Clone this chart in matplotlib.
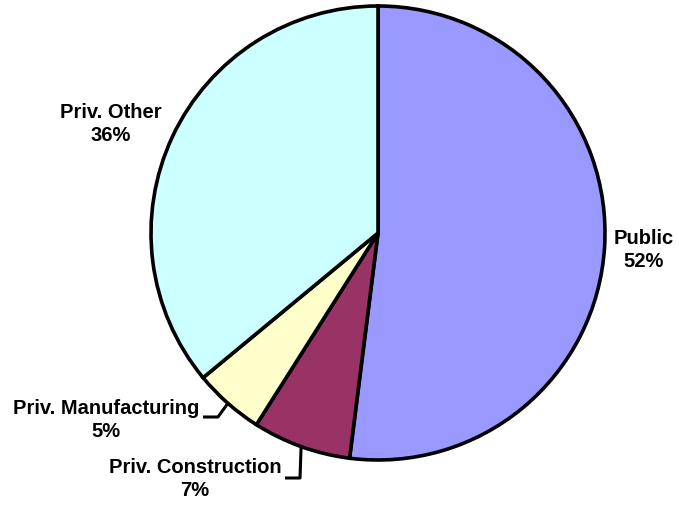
import numpy as np
import matplotlib
matplotlib.use("Agg")
import matplotlib.pyplot as plt

# data
labels = ["Public", "Priv. Construction", "Priv. Manufacturing", "Priv. Other"]
shares = [52, 7, 5, 36]
colors = ["#9999FF", "#993366", "#FFFFCC", "#CCFFFF"]

W, H = 679, 506
fig = plt.figure(figsize=(W / 100, H / 100), dpi=100)
ax = fig.add_axes([0, 0, 1, 1])

cx, cy, r = 378, H - 234, 227
wedges, _ = ax.pie(shares, colors=colors, startangle=90, counterclock=False,
                   center=(cx, cy), radius=r, frame=True,
                   wedgeprops=dict(edgecolor="black", linewidth=2.6))
ax.set_xlim(0, W)
ax.set_ylim(0, H)
ax.set_aspect("equal")
ax.axis("off")

# label layout (pixel positions in the picture, y measured from top)
label_pos = {
    "Public": (644, 250),
    "Priv. Other": (111, 124),
    "Priv. Manufacturing": (106, 420),
    "Priv. Construction": (195, 479),
}
leaders = {
    "Priv. Manufacturing": [(218, 418), (203, 418)],
    "Priv. Construction": [(300, 479), (285, 479)],
}

font = dict(family=["Liberation Sans", "DejaVu Sans"], weight="bold", size=14.5)
for w, name, val in zip(wedges, labels, shares):
    x, y = label_pos[name]
    ax.text(x, H - y, f"{name}\n{val}%", ha="center", va="center",
            linespacing=1.3, **font)
    if name in leaders:
        mid = np.deg2rad((w.theta1 + w.theta2) / 2)
        pts = [(cx + r * np.cos(mid), cy + r * np.sin(mid))]
        pts += [(px, H - py) for px, py in leaders[name]]
        xs, ys = zip(*pts)
        ax.plot(xs, ys, color="black", lw=2.2, solid_capstyle="butt",
                zorder=0)

fig.savefig("out.png", dpi=100)
